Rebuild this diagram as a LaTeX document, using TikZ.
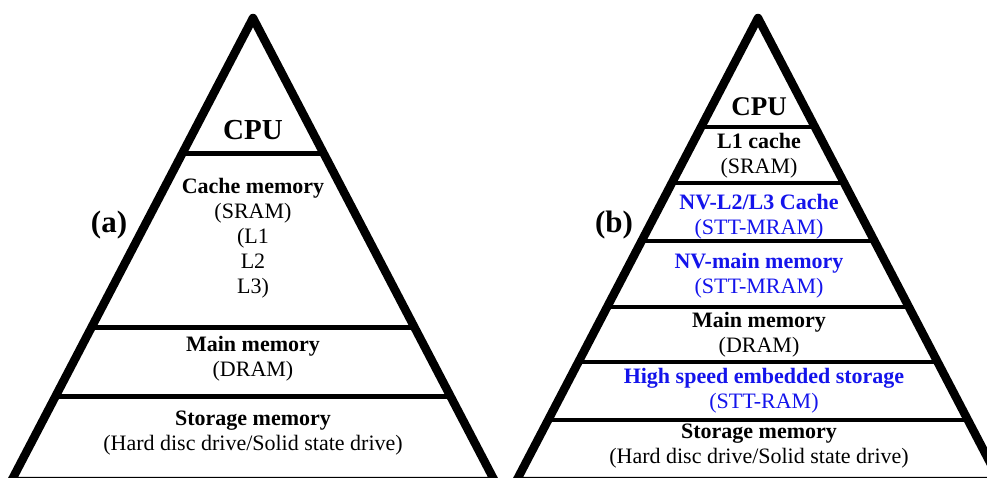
\documentclass[tikz,border=0pt]{standalone}
\usepackage{fontspec}
\setmainfont{Liberation Serif}
\usetikzlibrary{calc}
\definecolor{nvblue}{RGB}{20,20,235}
\begin{document}
\begin{tikzpicture}[x=1pt,y=-1pt,
  edge/.style={line width=8.5pt,line join=round,line cap=butt},
  divA/.style={line width=5pt},
  divB/.style={line width=4.2pt},
  lay/.style={align=center,font=\fontsize{22}{25}\selectfont,inner sep=0pt},
  cpu/.style={font=\fontsize{29}{32}\selectfont\bfseries,inner sep=0pt},
  tag/.style={font=\fontsize{31}{34}\selectfont\bfseries,inner sep=0pt},
  nv/.style={text=nvblue}]
\useasboundingbox (0,0) rectangle (987,477);
\begin{scope}
\clip (0,0) rectangle (987,477);
% ---- left pyramid (a)
\coordinate (aT) at (253,18);
\coordinate (aL) at (11.3,481);
\coordinate (aR) at (494.7,481);
\draw[edge] (aL) -- (aT) -- (aR) -- cycle;
\foreach \t in {0.2937,0.6674,0.8164}{
  \draw[divA] ($(aT)!\t!(aL)$) -- ($(aT)!\t!(aR)$);
}
% ---- right pyramid (b)
\coordinate (bT) at (758,18);
\coordinate (bL) at (516.3,481);
\coordinate (bR) at (999.7,481);
\draw[edge] (bL) -- (bT) -- (bR) -- cycle;
\foreach \t in {0.2354,0.3564,0.4816,0.6242,0.7430,0.8683}{
  \draw[divB] ($(bT)!\t!(bL)$) -- ($(bT)!\t!(bR)$);
}
\end{scope}
% ---- texts (a)
\node[cpu] (acpu) at (253,130) {CPU};
\node[lay] (acache) at (253,238.5) {\textbf{Cache memory}\\(SRAM)\\(L1\\L2\\L3)};
\node[lay] (amain) at (253,358.5) {\textbf{Main memory}\\(DRAM)};
\node[lay] (astor) at (253,433.5) {\textbf{Storage memory}\\(Hard disc drive/Solid state drive)};
\node[tag] (atag) at (109,225) {(a)};
% ---- texts (b)
\node[cpu,font=\fontsize{27}{30}\selectfont\bfseries] (bcpu) at (759,107) {CPU};
\node[lay] (bl1) at (759,156) {\textbf{L1 cache}\\(SRAM)};
\node[lay,nv] (bl2) at (759,216.5) {\textbf{NV-L2/L3 Cache}\\(STT-MRAM)};
\node[lay,nv] (bnvm) at (759,276) {\textbf{NV-main memory}\\(STT-MRAM)};
\node[lay] (bmain) at (759,334.5) {\textbf{Main memory}\\(DRAM)};
\node[lay,nv] (bhs) at (764,390.5) {\textbf{High speed embedded storage}\\(STT-RAM)};
\node[lay] (bstor) at (759,446.5) {\textbf{Storage memory}\\(Hard disc drive/Solid state drive)};
\node[tag] (btag) at (614,225) {(b)};
\end{tikzpicture}
\end{document}
